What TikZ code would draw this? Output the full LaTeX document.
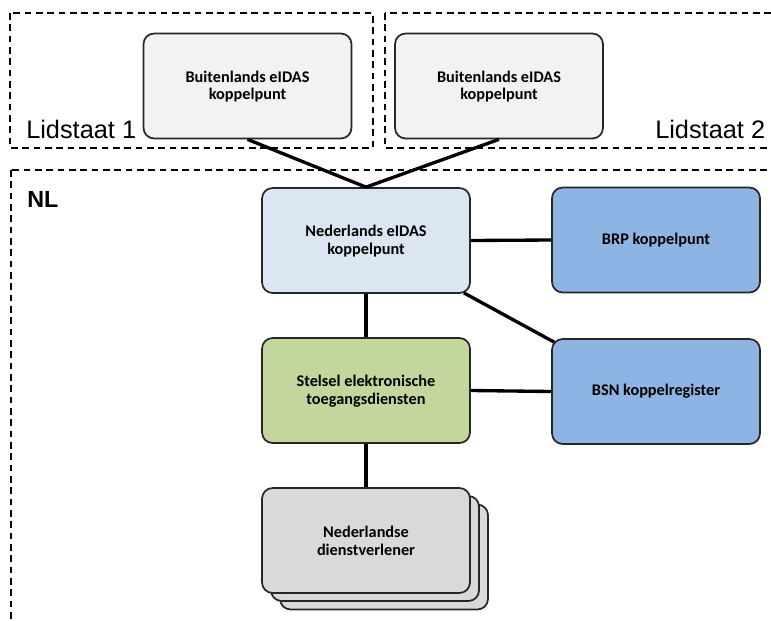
\documentclass[tikz,border=0pt]{standalone}
\usepackage{fontspec}
\setmainfont{Carlito}
\newfontfamily\arialfont{Liberation Sans}
\begin{document}
\begin{tikzpicture}[x=0.75pt,y=-0.75pt,
  box/.style={draw=black!85, line width=1.3pt, rounded corners=8pt, minimum width=208*0.75pt, minimum height=105*0.75pt, align=center, inner sep=0pt,
    font=\fontsize{12.2}{13.2}\selectfont\bfseries},
  grayA/.style={box, fill=black!5},
  blueD/.style={box, fill={rgb,255:red,142;green,180;blue,227}},
  greenB/.style={box, fill={rgb,255:red,195;green,214;blue,155}},
  grayB/.style={box, fill={rgb,255:red,217;green,217;blue,217}},
  region/.style={draw=black, line width=1.1pt, dash pattern=on 5pt off 3.5pt},
  link/.style={draw=black, line width=2.5pt},
  lbl/.style={font=\arialfont\fontsize{19}{21}\selectfont, inner sep=0pt, anchor=base west}
]
\definecolor{lightblue}{RGB}{220,230,242}
\clip (0,0) rectangle (771,621);
\useasboundingbox (0,0) rectangle (771,621);
% regions
\draw[region] (10,13) rectangle (373,148);
\draw[region] (385,13) rectangle (800,148);
\draw[region] (11,170) rectangle (800,660);
\node[lbl] (l1) at (26,138) {Lidstaat 1};
\node[lbl] (l2) at (655,138) {Lidstaat 2};
\node[lbl, font=\arialfont\bfseries\fontsize{17.5}{19}\selectfont] (nl) at (27,207) {NL};
% boxes
\node[grayA] (b1) at (247.5,86) {\strut Buitenlands eIDAS\\koppelpunt};
\node[grayA] (b2) at (499,86) {\strut Buitenlands eIDAS\\koppelpunt};
\node[box, fill=lightblue] (ne) at (366,240.5) {\strut Nederlands eIDAS\\koppelpunt};
\node[blueD] (brp) at (656,240) {BRP koppelpunt};
\node[blueD] (bsn) at (656,391.5) {BSN koppelregister};
\node[greenB] (st) at (366,390.5) {\strut Stelsel elektronische\\toegangsdiensten};
\node[grayB] (d3) at (384,557) {};
\node[grayB] (d2) at (375,548.5) {};
\node[grayB] (d1) at (366,540.5) {\strut Nederlandse\\dienstverlener};
% connectors
\coordinate (ntop) at (ne.north);
\draw[link] (b1.south) -- (ntop);
\draw[link] (b2.south) -- (ntop);
\draw[link] (ne.east) -- (brp.west);
\path (ne.south east) ++(-7,-1) coordinate (c1) (bsn.north west) ++(3,4) coordinate (c2);
\draw[link] (c1) -- (c2);
\draw[link] (ne.south) -- (st.north);
\draw[link] (st.east) -- (bsn.west);
\draw[link] (st.south) -- (d1.north);
\end{tikzpicture}
\end{document}
